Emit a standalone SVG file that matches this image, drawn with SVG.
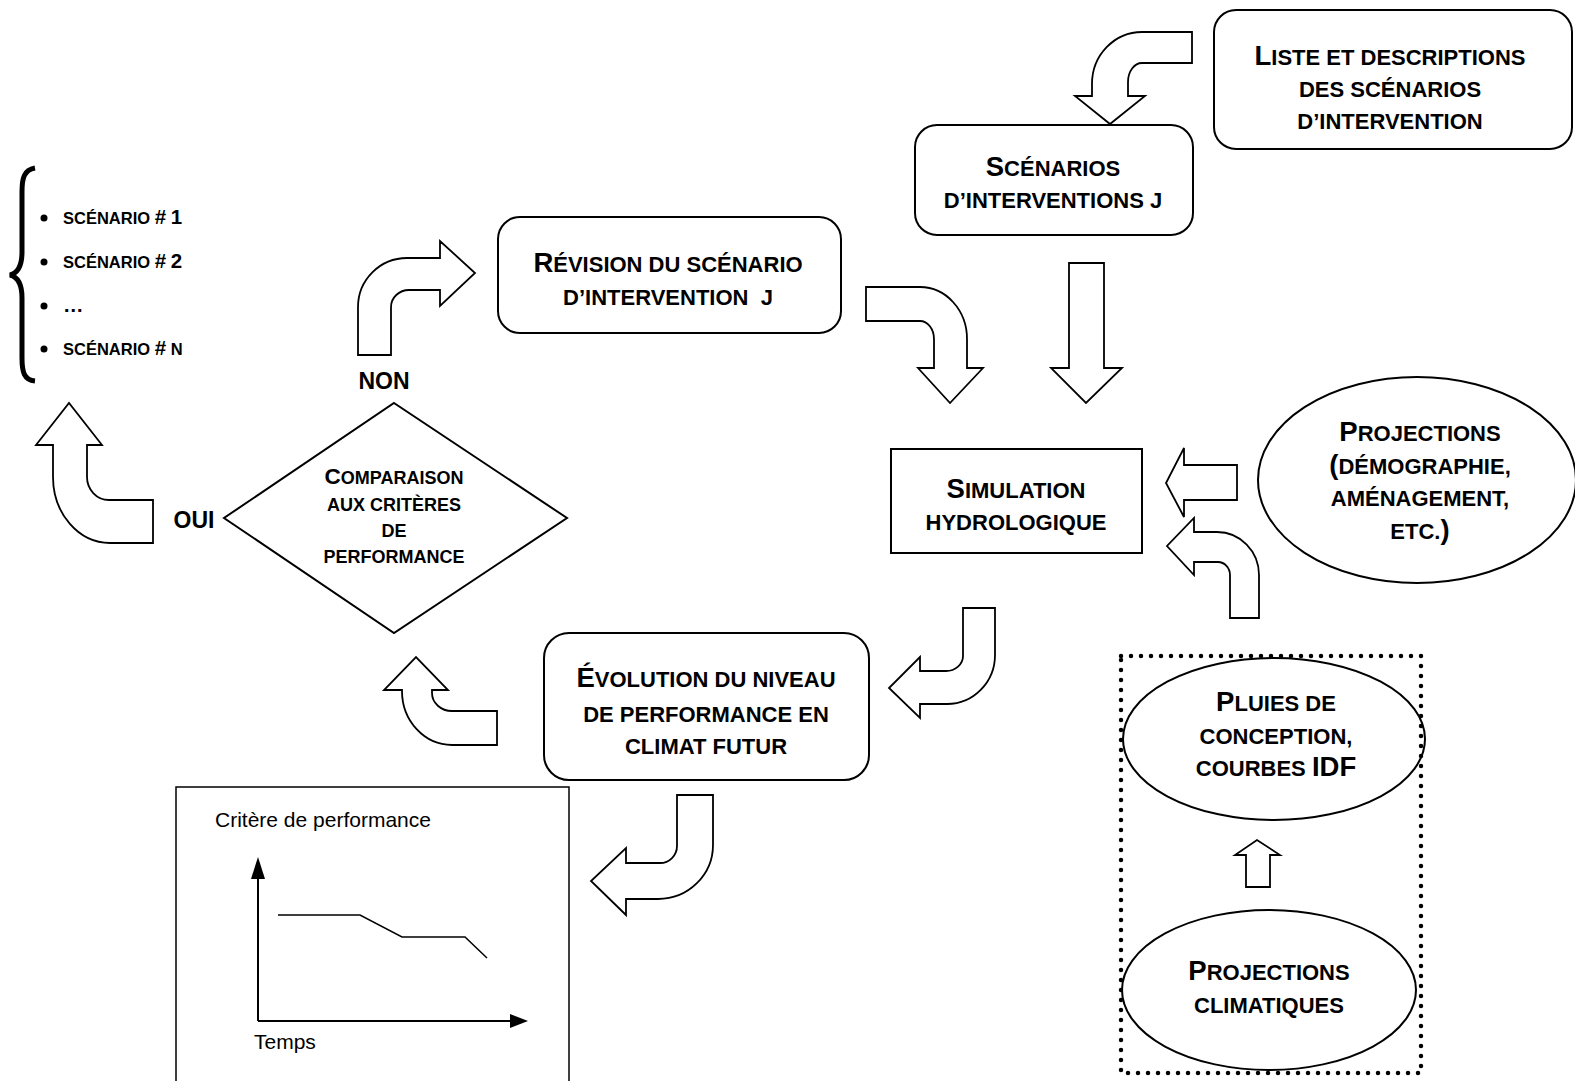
<svg xmlns="http://www.w3.org/2000/svg" width="1575" height="1081" viewBox="0 0 1575 1081">
<style>
text{font-family:"Liberation Sans",Arial,sans-serif;font-weight:bold;fill:#000;font-size:22px;text-anchor:middle}
.b{font-size:27.5px}
.dm{font-size:18px}
.dmb{font-size:22.5px}
.bl{font-size:16.5px;text-anchor:start}
.blb{font-size:20.5px}
.lab{font-size:23px}
.reg{font-weight:normal;font-size:21px;text-anchor:start}
.box{fill:#fff;stroke:#000;stroke-width:2}
.arr{fill:#fff;stroke:#000;stroke-width:1.8;stroke-linejoin:miter}
</style>
<rect width="1575" height="1081" fill="#fff"/>

<g id="connectors">
<path class="arr" d="M1192,32 H1142 A50,52 0 0 0 1092,84 V96 H1075 L1110,124 L1145,96 H1128 V82 A14,19 0 0 1 1142,63 H1192 Z"/>
<path class="arr" d="M866,287 H920 A47,52 0 0 1 967,339 V368 H983 L950,403 L918,368 H934 V339 A14,18 0 0 0 920,321 H866 Z"/>
<path class="arr" d="M1069,263 H1104 V368 H1122 L1086,403 L1051,368 H1069 Z"/>
<path class="arr" d="M1237,465 H1184 V448 L1166,483 L1184,517 V500 H1237 Z"/>
<path class="arr" d="M1259,618 V575 A42,43 0 0 0 1217,532 H1194 V518 L1167,546 L1194,575 V562 H1218 A12,13 0 0 1 1230,575 V618 Z"/>
<path class="arr" d="M963,608 H995 V655 A48,49 0 0 1 947,704 H920 V718 L889,688 L920,657 V671 H946 A17,15 0 0 0 963,656 Z"/>
<path class="arr" d="M497,745 H452 A50,54 0 0 1 402,691 V690 H384 L416,657 L448,690 H432 V693 A20,18 0 0 0 452,711 H497 Z"/>
<path class="arr" d="M677,795 H713 V845 A55,54 0 0 1 658,899 H626 V915 L591,881 L626,848 V863 H660 A17,17 0 0 0 677,846 Z"/>
<path class="arr" d="M358,355 V307 A49,49 0 0 1 407,258 H440 V241 L475,273 L440,306 V290 H409 A18,17 0 0 0 391,307 V355 Z"/>
<path class="arr" d="M153,543 H110 A57,66 0 0 1 53,477 V445 H36 L69,403 L102,445 H87 V477 A22,23 0 0 0 109,500 H153 Z"/>
<path class="arr" d="M1246,887 V855 H1235 L1257,840 L1280,855 H1270 V887 Z"/>
</g>

<g id="liste">
<rect class="box" x="1214" y="10" width="358" height="139" rx="22"/>
<text x="1390" y="65"><tspan class="b">L</tspan>ISTE ET DESCRIPTIONS</text>
<text x="1390" y="97">DES SCÉNARIOS</text>
<text x="1390" y="129">D’INTERVENTION</text>
</g>

<g id="scenarios">
<rect class="box" x="915" y="125" width="278" height="110" rx="22"/>
<text x="1053" y="176"><tspan class="b">S</tspan>CÉNARIOS</text>
<text x="1053" y="208">D’INTERVENTIONS J</text>
</g>

<g id="revision">
<rect class="box" x="498" y="217" width="343" height="116" rx="22"/>
<text x="668" y="272"><tspan class="b">R</tspan>ÉVISION DU SCÉNARIO</text>
<text x="668" y="305" xml:space="preserve">D’INTERVENTION  J</text>
</g>

<g id="simulation">
<rect class="box" x="891" y="449" width="251" height="104"/>
<text x="1016" y="498"><tspan class="b">S</tspan>IMULATION</text>
<text x="1016" y="530">HYDROLOGIQUE</text>
</g>

<g id="projections">
<ellipse class="box" cx="1417" cy="480" rx="159" ry="103"/>
<text x="1420" y="441"><tspan class="b">P</tspan>ROJECTIONS</text>
<text x="1420" y="474"><tspan class="b">(</tspan>DÉMOGRAPHIE,</text>
<text x="1420" y="506">AMÉNAGEMENT,</text>
<text x="1420" y="539">ETC.<tspan class="b">)</tspan></text>
</g>

<g id="comparaison">
<polygon class="box" points="394,403 567,518 394,633 224,518"/>
<text class="dm" x="394" y="484"><tspan class="dmb">C</tspan>OMPARAISON</text>
<text class="dm" x="394" y="511">AUX CRITÈRES</text>
<text class="dm" x="394" y="537">DE</text>
<text class="dm" x="394" y="563">PERFORMANCE</text>
</g>

<g id="non"><text class="lab" x="384" y="389">NON</text></g>
<g id="oui"><text class="lab" x="194" y="528">OUI</text></g>

<g id="liste-scenarios">
<path d="M35,168 C24,170 22,178 22,192 V252 C22,266 18,273 10,275 C18,277 22,284 22,298 V358 C22,372 24,380 35,381" fill="none" stroke="#000" stroke-width="5"/>
<circle cx="44" cy="218" r="3.5"/>
<circle cx="44" cy="262" r="3.5"/>
<circle cx="44" cy="306" r="3.5"/>
<circle cx="44" cy="349" r="3.5"/>
<text class="bl" x="63" y="224">SCÉNARIO <tspan class="blb">#</tspan> <tspan class="blb">1</tspan></text>
<text class="bl" x="63" y="268">SCÉNARIO <tspan class="blb">#</tspan> <tspan class="blb">2</tspan></text>
<text class="bl" x="63" y="312"><tspan class="blb">…</tspan></text>
<text class="bl" x="63" y="355">SCÉNARIO <tspan class="blb">#</tspan> N</text>
</g>

<g id="evolution">
<rect class="box" x="544" y="633" width="325" height="147" rx="25"/>
<text x="706" y="687"><tspan class="b">É</tspan>VOLUTION DU NIVEAU</text>
<text x="706" y="722">DE PERFORMANCE EN</text>
<text x="706" y="754">CLIMAT FUTUR</text>
</g>

<g id="graphique">
<rect x="176" y="787" width="393" height="310" fill="#fff" stroke="#000" stroke-width="1.5"/>
<text class="reg" x="215" y="827">Critère de performance</text>
<text class="reg" x="254" y="1049">Temps</text>
<path d="M258,1021 V875 M258,1021 H512" fill="none" stroke="#000" stroke-width="2"/>
<polygon points="258,857 251,879 265,879"/>
<polygon points="528,1021 510,1014 510,1028"/>
<polyline points="278,915 360,915 402,937 465,937 487,958" fill="none" stroke="#000" stroke-width="1.5"/>
</g>

<g id="climat">
<rect x="1121" y="656" width="300" height="417" fill="none" stroke="#000" stroke-width="4.5" stroke-dasharray="0 10" stroke-linecap="round"/>
</g>

<g id="pluies">
<ellipse class="box" cx="1274" cy="739" rx="151" ry="81" style="fill:none"/>
<text x="1276" y="711"><tspan class="b">P</tspan>LUIES DE</text>
<text x="1276" y="744">CONCEPTION,</text>
<text x="1276" y="776">COURBES <tspan class="b">IDF</tspan></text>
</g>

<g id="projections-climatiques">
<ellipse class="box" cx="1269" cy="990" rx="147" ry="80" style="fill:none"/>
<text x="1269" y="980"><tspan class="b">P</tspan>ROJECTIONS</text>
<text x="1269" y="1013">CLIMATIQUES</text>
</g>
</svg>
